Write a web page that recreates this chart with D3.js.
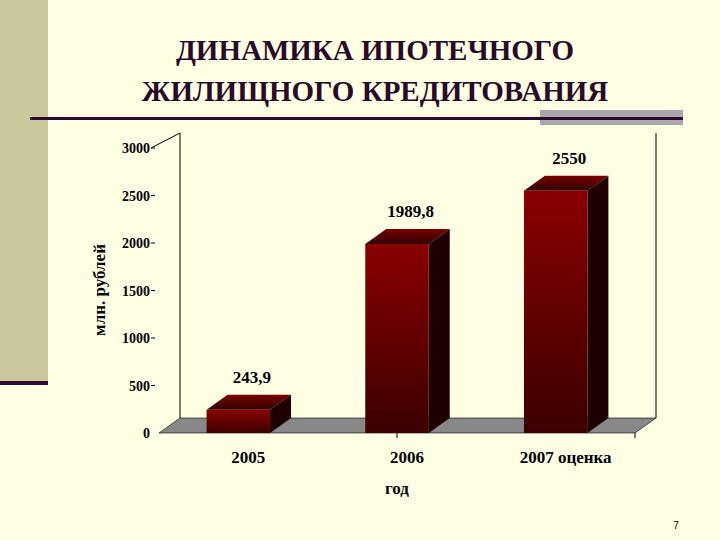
<!DOCTYPE html>
<html><head><meta charset="utf-8">
<script src="https://cdn.jsdelivr.net/npm/d3@7"></script>
<style>body{margin:0;background:#ffffe3}svg{display:block}</style>
</head><body>
<svg width="720" height="540"></svg>
<script>
const categories = ['2005', '2006', '2007 оценка'];
const values = [243.9, 1989.8, 2550];
const valueLabels = ['243,9', '1989,8', '2550'];
const yTicks = [0, 500, 1000, 1500, 2000, 2500, 3000];

const svg = d3.select('svg');
const font = '"Liberation Serif", "Times New Roman", serif';

// slide decoration
svg.append('rect').attr('x', 0).attr('y', 0).attr('width', 48).attr('height', 382).attr('fill', '#cbc99b');
svg.append('rect').attr('x', 0).attr('y', 381).attr('width', 48).attr('height', 4).attr('fill', '#2e0a33');
svg.append('rect').attr('x', 540).attr('y', 110).attr('width', 143).attr('height', 15).attr('fill', '#aaa8ac');
svg.append('rect').attr('x', 30).attr('y', 117).attr('width', 653).attr('height', 3).attr('fill', '#2e0a33');

svg.append('text').attr('x', 375).attr('y', 60).attr('text-anchor', 'middle')
  .attr('font-family', font).attr('font-weight', 'bold').attr('font-size', 29).attr('fill', '#2a0a2a')
  .text('ДИНАМИКА ИПОТЕЧНОГО');
svg.append('text').attr('x', 375).attr('y', 101).attr('text-anchor', 'middle')
  .attr('font-family', font).attr('font-weight', 'bold').attr('font-size', 29).attr('fill', '#2a0a2a')
  .text('ЖИЛИЩНОГО КРЕДИТОВАНИЯ');

// chart
const x0 = 159, x1 = 635, dx = 21, dy = -15;
const x = d3.scaleBand().domain(categories).range([x0, x1]).paddingInner(0.6).paddingOuter(0.3);
const y = d3.scaleLinear().domain([0, 3000]).range([433, 148]);

const defs = svg.append('defs');
const gf = defs.append('linearGradient').attr('id', 'front').attr('x1', 0).attr('y1', 0).attr('x2', 0).attr('y2', 1);
gf.append('stop').attr('offset', 0).attr('stop-color', '#8a0000');
gf.append('stop').attr('offset', 1).attr('stop-color', '#3c0000');
const gt = defs.append('linearGradient').attr('id', 'top').attr('x1', 0).attr('y1', 1).attr('x2', 0).attr('y2', 0);
gt.append('stop').attr('offset', 0).attr('stop-color', '#300000');
gt.append('stop').attr('offset', 1).attr('stop-color', '#7a0000');

// walls
svg.append('path').attr('fill', 'none').attr('stroke', '#000').attr('stroke-width', 1)
  .attr('d', `M${x0 + dx},${y(0) + dy}V${y(3000) + dy}M${x1 + dx},${y(0) + dy}V${y(3000) + dy}M${x0 - 8},${y(3000)}L${x0 + dx},${y(3000) + dy}`);
// floor
svg.append('path').attr('fill', '#888').attr('stroke', '#000').attr('stroke-width', 0.6)
  .attr('d', `M${x0},${y(0)}L${x0 + dx},${y(0) + dy}H${x1 + dx}L${x1},${y(0)}Z`);
svg.append('line').attr('x1', 397).attr('x2', 397).attr('y1', 433).attr('y2', 438).attr('stroke', '#000');
svg.append('line').attr('x1', x1).attr('x2', x1).attr('y1', 433).attr('y2', 438).attr('stroke', '#000');

// y ticks
const yAxis = svg.append('g');
yTicks.forEach(t => {
  if (t > 0) yAxis.append('line').attr('x1', x0 - 8).attr('x2', x0 - 4).attr('y1', y(t)).attr('y2', y(t)).attr('stroke', '#000');
  yAxis.append('text').attr('x', x0 - 9).attr('y', y(t) + 5).attr('text-anchor', 'end')
    .attr('font-family', font).attr('font-weight', 'bold').attr('font-size', 14).text(t);
});

// bars
categories.forEach((c, i) => {
  const bx = x(c), bw = x.bandwidth(), top = y(values[i]), bot = y(0);
  const g = svg.append('g');
  g.append('path').attr('fill', '#1e0000')
    .attr('d', `M${bx + bw},${top}L${bx + bw + dx},${top + dy}V${bot + dy}L${bx + bw},${bot}Z`);
  g.append('path').attr('fill', 'url(#top)')
    .attr('d', `M${bx},${top}L${bx + dx},${top + dy}H${bx + bw + dx}L${bx + bw},${top}Z`);
  g.append('rect').attr('x', bx).attr('y', top).attr('width', bw).attr('height', bot - top).attr('fill', 'url(#front)');
  g.append('text').attr('x', bx + bw / 2 + dx / 2 + 3).attr('y', top + dy - 12).attr('text-anchor', 'middle')
    .attr('font-family', font).attr('font-weight', 'bold').attr('font-size', 17).text(valueLabels[i]);
  svg.append('text').attr('x', bx + bw / 2 + 10).attr('y', 463).attr('text-anchor', 'middle')
    .attr('font-family', font).attr('font-weight', 'bold').attr('font-size', 17).text(c);
});

svg.append('text').attr('x', 397).attr('y', 494).attr('text-anchor', 'middle')
  .attr('font-family', font).attr('font-weight', 'bold').attr('font-size', 17).text('год');
svg.append('text').attr('transform', 'translate(105,290) rotate(-90)').attr('text-anchor', 'middle')
  .attr('font-family', font).attr('font-weight', 'bold').attr('font-size', 17).text('млн. рублей');
svg.append('text').attr('x', 676).attr('y', 529).attr('text-anchor', 'middle')
  .attr('font-family', 'Arial, "Liberation Sans", sans-serif').attr('font-size', 10).text('7');
</script>
</body></html>
